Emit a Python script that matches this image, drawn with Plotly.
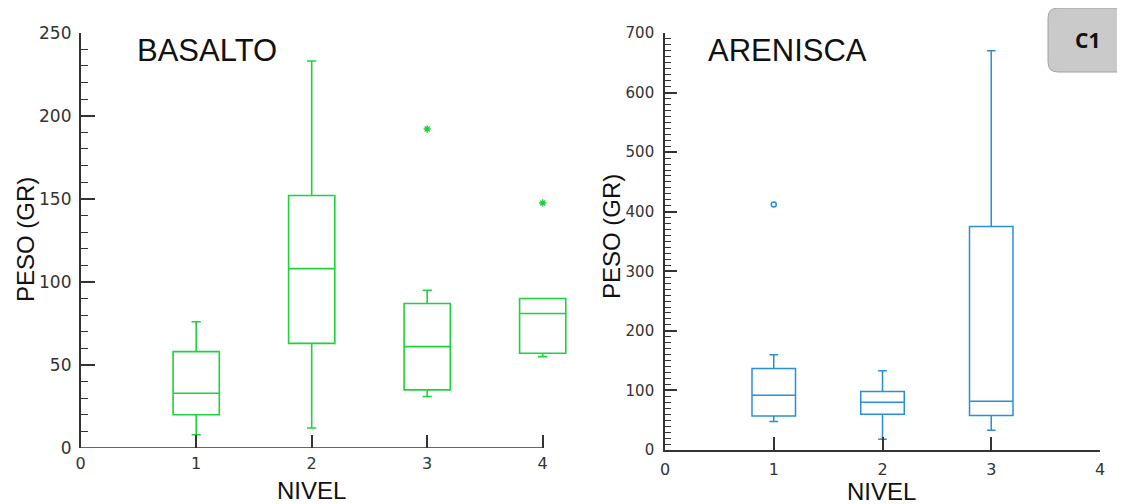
import plotly.graph_objects as go

# ---- data ----
niveles_bas = [1, 2, 3, 4]
bas_low = [8, 12, 31, 55]
bas_q1 = [20, 63, 35, 57]
bas_med = [33, 108, 61, 81]
bas_q3 = [58, 152, 87, 90]
bas_high = [76, 233, 95, 90]
bas_out_x = [3, 4]
bas_out_y = [192, 147.5]

niveles_are = [1, 2, 3]
are_low = [48, 18, 33]
are_q1 = [57, 60, 58]
are_med = [92, 80, 82]
are_q3 = [137, 98, 375]
are_high = [160, 133, 670]
are_out_x = [1]
are_out_y = [412]

x_ticks = [0, 1, 2, 3, 4]
bas_yticks = [0, 50, 100, 150, 200, 250]
are_yticks = [0, 100, 200, 300, 400, 500, 600, 700]

GREEN = "#1fd23c"
BLUE = "#2a8ed8"
AX = "#333333"
FONT = "Liberation Sans, Arial, sans-serif"
TFONT = "DejaVu Sans, sans-serif"

# the page body has an 8px margin: the figure starts at (8, 8) in the window
OFF = 8
W, H = 1125 - OFF, 504 - OFF


def px(x):
    return (x - OFF) / W


def py(y):
    return (H - (y - OFF)) / H


fig = go.Figure()
fig.add_trace(go.Box(x=niveles_bas, q1=bas_q1, median=bas_med, q3=bas_q3,
                     lowerfence=bas_low, upperfence=bas_high,
                     width=0.40, whiskerwidth=0.2, boxpoints=False,
                     fillcolor="rgba(0,0,0,0)", line=dict(color=GREEN, width=1.6),
                     xaxis="x", yaxis="y", showlegend=False, hoverinfo="skip"))
fig.add_trace(go.Scatter(x=bas_out_x, y=bas_out_y, mode="markers",
                         marker=dict(symbol="asterisk", size=6, color=GREEN,
                                     line=dict(color=GREEN, width=1.4)),
                         xaxis="x", yaxis="y", showlegend=False))
fig.add_trace(go.Box(x=niveles_are, q1=are_q1, median=are_med, q3=are_q3,
                     lowerfence=are_low, upperfence=are_high,
                     width=0.40, whiskerwidth=0.2, boxpoints=False,
                     fillcolor="rgba(0,0,0,0)", line=dict(color=BLUE, width=1.5),
                     xaxis="x2", yaxis="y2", showlegend=False, hoverinfo="skip"))
fig.add_trace(go.Scatter(x=are_out_x, y=are_out_y, mode="markers",
                         marker=dict(symbol="circle-open", size=5, color=BLUE,
                                     line=dict(color=BLUE, width=1.5)),
                         xaxis="x2", yaxis="y2", showlegend=False))

# left panel geometry: x=0 at 80.7px, 115.5 px/unit, range extended so box 4 is not clipped
L0, LU = 80.7, 115.5
LXMAX = 4.25
R0, R1 = 665, 1100

xcommon = dict(tickvals=x_ticks, ticks="inside", ticklen=13, tickwidth=1.6, tickcolor=AX,
               showgrid=False, zeroline=False, automargin=False, ticklabelstandoff=4,
               tickfont=dict(family=TFONT, size=16, color=AX))

fig.update_layout(
    width=W, height=H,
    margin=dict(l=0, r=0, t=0, b=0),
    paper_bgcolor="white", plot_bgcolor="white",
    xaxis=dict(domain=[px(L0), px(L0 + LXMAX * LU)], anchor="y", range=[0, LXMAX],
               showline=False, **xcommon),
    yaxis=dict(domain=[py(448), py(32.7)], anchor="x", range=[0, 250], tickvals=bas_yticks,
               ticks="inside", ticklen=14, tickwidth=1.6, tickcolor=AX,
               minor=dict(dtick=10, ticks="inside", ticklen=7, tickwidth=1.4, tickcolor=AX),
               showline=True, linecolor=AX, linewidth=1.6, showgrid=False,
               zeroline=False, automargin=False, ticklabelstandoff=4,
               tickfont=dict(family=TFONT, size=17, color=AX)),
    xaxis2=dict(domain=[px(R0), px(R1)], anchor="y2", range=[0, 4],
                showline=True, linecolor=AX, linewidth=1.6, **xcommon),
    yaxis2=dict(domain=[py(450), py(33)], anchor="x2", range=[0, 700], tickvals=are_yticks,
                ticks="inside", ticklen=12, tickwidth=1.6, tickcolor=AX,
                minor=dict(dtick=10, ticks="inside", ticklen=6, tickwidth=1.2, tickcolor=AX),
                showline=True, linecolor=AX, linewidth=1.6, showgrid=False,
                zeroline=False, automargin=False, ticklabelstandoff=6,
                tickfont=dict(family=TFONT, size=15, color=AX)),
)

# left x-axis line only from 0 to 4
fig.add_shape(type="line", xref="x", yref="y", x0=0, x1=4, y0=0, y1=0,
              line=dict(color=AX, width=1.6))

ann = []
ann.append(dict(text="BASALTO", x=px(207), y=py(51), font=dict(family=FONT, size=31, color="#111")))
ann.append(dict(text="ARENISCA", x=px(787), y=py(51), font=dict(family=FONT, size=31, color="#111")))
ann.append(dict(text="PESO (GR)", x=px(25), y=py(240), textangle=-90,
                font=dict(family=FONT, size=24, color="#111")))
ann.append(dict(text="PESO (GR)", x=px(611), y=py(237), textangle=-90,
                font=dict(family=FONT, size=24, color="#111")))
ann.append(dict(text="NIVEL", x=px(312), y=py(490), font=dict(family=FONT, size=24, color="#111")))
ann.append(dict(text="NIVEL", x=px(881), y=py(491), font=dict(family=FONT, size=24, color="#111")))
ann.append(dict(text="<b>C1</b>", x=px(1087), y=py(40),
                font=dict(family="Open Sans, Liberation Sans, sans-serif", size=21, color="#111")))
for a in ann:
    a.update(xref="paper", yref="paper", xanchor="center", yanchor="middle", showarrow=False)
fig.update_layout(annotations=ann)

# rounded badge
x0, x1, y0, y1, r = 1048, 1135, 8, 72, 10
path = (f"M {px(x0 + r)},{py(y0)} L {px(x1)},{py(y0)} L {px(x1)},{py(y1)} "
        f"L {px(x0 + r)},{py(y1)} Q {px(x0)},{py(y1)} {px(x0)},{py(y1 - r)} "
        f"L {px(x0)},{py(y0 + r)} Q {px(x0)},{py(y0)} {px(x0 + r)},{py(y0)} Z")
fig.add_shape(type="path", xref="paper", yref="paper", path=path,
              fillcolor="#cacaca", line=dict(color="#a0a0a0", width=1), layer="below")

fig.write_html("out.html")
